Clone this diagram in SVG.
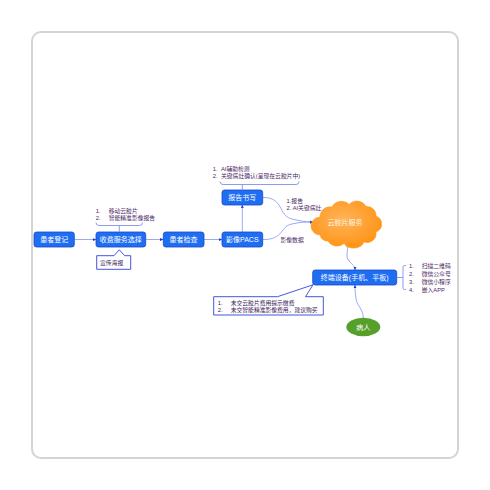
<svg xmlns="http://www.w3.org/2000/svg" width="490" height="490" viewBox="0 0 490 490">
<defs>
<style>
.frame{fill:#fff;stroke:#d4d4d4;stroke-width:2}
.node{fill:#1f6ef2;stroke:#1747c9;stroke-width:0.8}
.nt{font-family:"Liberation Sans","Noto Sans CJK SC",sans-serif;font-size:7px;fill:#fff;text-anchor:middle;dominant-baseline:central}
.lt{font-family:"Liberation Sans","Noto Sans CJK SC",sans-serif;font-size:5.8px;fill:#4a1f66}
.br{fill:none;stroke:#7f92ee;stroke-width:0.9}
.con{fill:none;stroke:#8fa0f2;stroke-width:0.9}
.call{fill:#fff;stroke:#2f44dd;stroke-width:0.9}
.pt{font-family:"Liberation Sans","Noto Sans CJK SC",sans-serif;font-size:5.8px;fill:#3a1a5a}
</style>
<marker id="ah" viewBox="0 0 6 6" refX="5.5" refY="3" markerWidth="4" markerHeight="4" orient="auto">
<path d="M0,0.5 L6,3 L0,5.5 Z" fill="#1b3fd6"/>
</marker>
<radialGradient id="cg" cx="0.45" cy="0.4" r="0.6">
<stop offset="0" stop-color="#ffb45a"/>
<stop offset="1" stop-color="#ff9416"/>
</radialGradient>
</defs>
<rect class="frame" x="32" y="32" width="426" height="426" rx="9"/>

<g id="connectors">
<path class="con" d="M74,239.5 L96,239.5" marker-end="url(#ah)"/>
<path class="con" d="M145.7,239.5 L163.3,239.5" marker-end="url(#ah)"/>
<path class="con" d="M204,239.5 L222,239.5" marker-end="url(#ah)"/>
<path class="con" d="M242.3,232 L242.3,205" marker-end="url(#ah)"/>
<path class="con" d="M262.7,197.5 C284,197 278,216 292,219 C300,221 306,222 313,222" marker-end="url(#ah)"/>
<path class="con" d="M262.7,239.5 C284,240 280,226 292,224 C300,222 306,222 313,222" marker-end="url(#ah)"/>
<path class="con" d="M347,246 C349,252 344,256 350,262 C354,266 355,267 355,270" marker-end="url(#ah)"/>
<path class="con" d="M363.3,318 C363,308 356,305 356,298 C355,292 355,289 355,285" marker-end="url(#ah)"/>
<text class="lt" x="286.5" y="202.7">1.报告</text>
<text class="lt" x="286.5" y="209.7">2. AI关键病灶</text>
<text class="lt" x="280.5" y="242">影像数据</text>
</g>

<g id="n-register">
<rect class="node" x="34" y="232" width="40.3" height="15" rx="2.5"/>
<text class="nt" x="54.2" y="239.5">患者登记</text>
</g>
<g id="n-fee">
<rect class="node" x="96" y="232" width="49.7" height="15" rx="2.5"/>
<text class="nt" x="120.8" y="239.5">收费服务选择</text>
</g>
<g id="n-fee-list">
<text class="lt" x="95.7" y="212.7">1.</text>
<text class="lt" x="108.7" y="212.7">移动云胶片</text>
<text class="lt" x="95.7" y="219.7">2.</text>
<text class="lt" x="108.7" y="219.7">智能精准影像报告</text>
<path class="br" d="M96,222.5 Q96,225.5 99,225.5 L139.5,225.5 Q142.5,225.5 142.5,222.5 M119.3,225.5 L119.3,232"/>
</g>
<g id="n-poster">
<path class="call" d="M96.7,255.7 L114,255.7 L119.3,249.8 L124.6,255.7 L130.7,255.7 L130.7,269.3 L96.7,269.3 Z"/>
<text class="pt" x="100" y="264.5">宣传海报</text>
</g>
<g id="n-exam">
<rect class="node" x="163.3" y="232" width="40.7" height="15" rx="2.5"/>
<text class="nt" x="183.6" y="239.5">患者检查</text>
</g>
<g id="n-pacs">
<rect class="node" x="222" y="232" width="40.7" height="15" rx="2.5"/>
<text class="nt" x="242.3" y="239.5">影像PACS</text>
</g>
<g id="n-report">
<rect class="node" x="222" y="190" width="40.7" height="15" rx="2.5"/>
<text class="nt" x="242.3" y="197.5">报告书写</text>
</g>
<g id="n-report-list">
<text class="lt" x="212.7" y="171">1.</text>
<text class="lt" x="221" y="171">AI辅助检测</text>
<text class="lt" x="212.7" y="178">2.</text>
<text class="lt" x="221" y="178">关键病灶确认(呈现在云胶片中)</text>
<path class="br" d="M220,181.5 Q220,184.5 223,184.5 L296,184.5 Q299,184.5 299,181.5 M242.3,184.5 L242.3,190"/>
</g>
<g id="n-cloud">
<path d="M320,235 A9,9 0 0 1 320,217 A10,10 0 0 1 332,207 A10,9 0 0 1 349,204.5 A10,9 0 0 1 366,206.5 A9,9 0 0 1 376,216 A8.5,8.5 0 0 1 376,232 A9,9 0 0 1 364,242 A11,9 0 0 1 344,243.5 A10,9 0 0 1 328,241 A8,8 0 0 1 320,235 Z" fill="url(#cg)" stroke="#ff9a1f" stroke-width="0.6"/>
<text class="nt" x="345" y="222" style="fill:#fff3e0">云胶片服务</text>
</g>
<g id="n-terminal">
<rect class="node" x="312.7" y="270" width="84" height="15" rx="2.5"/>
<text class="nt" x="354.7" y="277.5">终端设备(手机、平板)</text>
</g>
<g id="n-terminal-list">
<text class="lt" x="409" y="267.7">1.</text>
<text class="lt" x="421.7" y="267.7">扫描二维码</text>
<text class="lt" x="409" y="275.7">2.</text>
<text class="lt" x="421.7" y="275.7">微信公众号</text>
<text class="lt" x="409" y="283.7">3.</text>
<text class="lt" x="421.7" y="283.7">微信小程序</text>
<text class="lt" x="409" y="291.7">4.</text>
<text class="lt" x="421.7" y="291.7">嵌入APP</text>
<path class="br" d="M406,265.5 L404.5,265.5 Q403,265.5 403,267 L403,288 Q403,289.5 404.5,289.5 L406,289.5 M396.7,277.5 L403,277.5"/>
</g>
<g id="n-warning">
<path class="call" d="M213.7,296.7 L277.5,296.7 L313,284.8 L305.5,296.7 L323.3,296.7 L323.3,315 L213.7,315 Z"/>
<text class="pt" x="217.7" y="304.5">1.</text>
<text class="pt" x="230.7" y="304.5">未交云胶片费用提示缴费</text>
<text class="pt" x="217.7" y="311.8">2.</text>
<text class="pt" x="230.7" y="311.8">未交智能精准影像费用，建议购买</text>
</g>
<g id="n-patient">
<ellipse cx="363.3" cy="327" rx="17" ry="9.2" fill="#55a02a"/>
<text class="nt" x="363.3" y="327">病人</text>
</g>
</svg>
